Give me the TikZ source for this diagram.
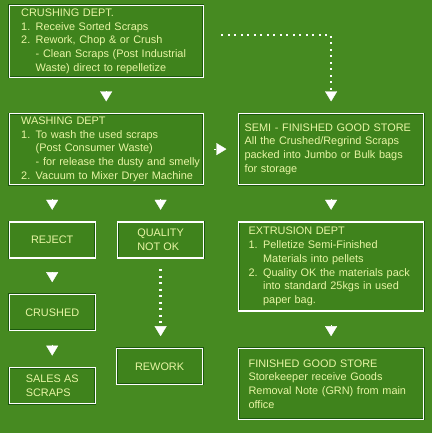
\documentclass[tikz,border=0pt]{standalone}
\usepackage{fontspec}
\setmainfont{Liberation Sans}
\usepackage{tikz}
\usetikzlibrary{arrows.meta,positioning}
\definecolor{bggreen}{RGB}{70,138,33}
\definecolor{boxgreen}{RGB}{63,131,28}
\definecolor{edgegreen}{RGB}{28,88,14}
\definecolor{textyellow}{RGB}{232,245,164}

\begin{document}
\begin{tikzpicture}[
                        x=1pt, y=1pt,
                        box/.style={rectangle, draw=edgegreen, double=white, double distance=1.1pt, line width=0.4pt,
                                    fill=boxgreen, text=textyellow, align=left, inner ysep=2pt,
                                    font=\fontsize{10.9pt}{13.7pt}\selectfont},
                        bigbox/.style={box, inner xsep=#1},
                        smallbox/.style={box, minimum width=86pt, minimum height=36pt, inner xsep=4pt},
                        flow/.style={draw=white, line width=0.3pt, -{Triangle[width=12pt,length=10pt]},
                                     shorten >=12pt, shorten <=14pt},
                        dots/.style={draw=white, line width=2.4pt, dash pattern=on 2pt off 4.5pt,
                                     -{Triangle[width=12pt,length=10pt,line width=0.3pt]}, shorten >=12pt}
                    ]
                    \fill[bggreen] (-9,5) rectangle (423,-428);
                    \useasboundingbox (-9,5) rectangle (423,-428);
                    % Blocks
                    \node [bigbox=12pt, text width=170pt, minimum height=72pt, anchor=north west] (crush) at (0,0)
                        {CRUSHING DEPT.\\
                         1. Receive Sorted Scraps\\
                         2. Rework, Chop \& or Crush\\
                         \mbox{\phantom{2. }- Clean Scraps (Post Industrial}\\
                         \mbox{\phantom{2. }Waste) direct to repelletize}};
                    \node [bigbox=12pt, text width=170pt, minimum height=71pt, below=36pt of crush] (wash)
                        {WASHING DEPT\\
                         1. To wash the used scraps\\
                         \phantom{1. }(Post Consumer Waste)\\
                         \mbox{\phantom{1. }- for release the dusty and smelly}\\
                         \mbox{2. Vacuum to Mixer Dryer Machine}};
                    \node [bigbox=6pt, text width=173pt, minimum height=71pt, right=35pt of wash] (semi)
                        {SEMI - FINISHED GOOD STORE\\
                         All the Crushed/Regrind Scraps\\
                         packed into Jumbo or Bulk bags\\
                         for storage};
                    \node [smallbox, below=37pt of wash.south west, anchor=north west] (reject) {REJECT};
                    \node [smallbox, right=22pt of reject] (quality) {QUALITY\\NOT OK};
                    \node [bigbox=10pt, text width=165pt, minimum height=89pt, below=37pt of semi] (extr)
                        {EXTRUSION DEPT\\
                         1. Pelletize Semi-Finished\\
                         \phantom{1. }Materials into pellets\\
                         \mbox{2. Quality OK the materials pack}\\
                         \phantom{2. }into standard 25kgs in used\\
                         \phantom{2. }paper bag.};
                    \node [smallbox, below=36pt of reject] (crushed) {CRUSHED};
                    \node [smallbox, below=37pt of crushed] (sales) {SALES AS\\SCRAPS};
                    \node [smallbox, below=90pt of quality, xshift=-1pt] (rework) {REWORK};
                    \node [bigbox=10pt, text width=165pt, minimum height=71pt, below=37pt of extr] (finished)
                        {FINISHED GOOD STORE\\
                         Storekeeper receive Goods\\
                         \mbox{Removal Note (GRN) from main}\\
                         office};

                    % Connections
                    \draw [flow] (crush) -- (wash);
                    \draw [flow] (wash.south -| reject.north) -- (reject.north);
                    \draw [flow] (wash.south -| quality.north) -- (quality.north);
                    \draw [flow, shorten <=11pt] (wash) -- (semi);
                    \draw [flow] (semi) -- (extr);
                    \draw [flow] (reject) -- (crushed);
                    \draw [flow] (crushed) -- (sales);
                    \draw [flow] (extr) -- (finished);
                    \draw [dots, shorten <=11pt] (quality.south) -- (quality.south |- rework.north);
                    \draw [dots] ([xshift=18pt,yshift=6pt]crush.east) -| (semi.north);
                \end{tikzpicture}
\end{document}
